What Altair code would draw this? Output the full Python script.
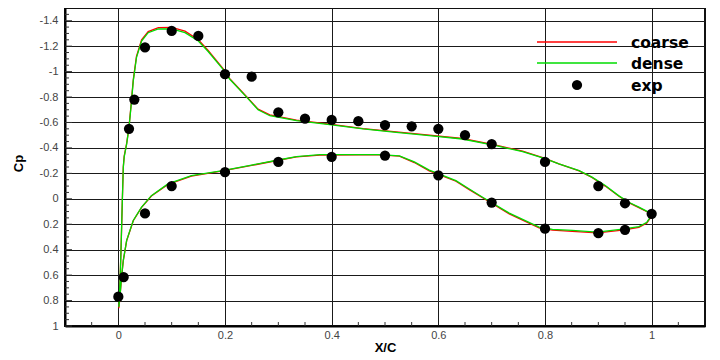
import altair as alt
import pandas as pd

# ---- CFD curves (path order: upper surface TE -> LE, then lower surface LE -> TE)
dense_x = [1.0, 0.994, 0.976, 0.957, 0.938, 0.913, 0.888, 0.864, 0.826, 0.8, 0.758, 0.708, 0.645,
           0.583, 0.521, 0.459, 0.40, 0.334, 0.284, 0.262, 0.241, 0.209, 0.196, 0.168, 0.15, 0.125,
           0.1, 0.075, 0.056, 0.0436, 0.034, 0.028, 0.0237, 0.02, 0.0156, 0.011, 0.0093, 0.0075,
           0.005, 0.003, 0.001,
           0.003, 0.006, 0.0093, 0.0156, 0.028, 0.0436, 0.062, 0.093, 0.137, 0.193, 0.25, 0.3,
           0.334, 0.378, 0.45, 0.49, 0.527, 0.555, 0.583, 0.633, 0.658, 0.683, 0.733, 0.789, 0.814,
           0.851, 0.898, 0.945, 0.976, 0.991, 0.9975, 1.0]
dense_cp = [0.13, 0.105, 0.066, 0.027, -0.025, -0.104, -0.17, -0.222, -0.274, -0.315, -0.37, -0.418,
            -0.47, -0.496, -0.522, -0.549, -0.582, -0.614, -0.653, -0.7, -0.797, -0.94, -1.02, -1.16,
            -1.24, -1.306, -1.335, -1.335, -1.306, -1.24, -1.11, -0.927, -0.72, -0.56, -0.43, -0.33,
            -0.247, 0.014, 0.406, 0.667, 0.85,
            0.772, 0.615, 0.484, 0.327, 0.17, 0.066, -0.025, -0.117, -0.182, -0.22, -0.265, -0.305,
            -0.331, -0.347, -0.348, -0.347, -0.337, -0.29, -0.225, -0.143, -0.077, -0.012, 0.113,
            0.223, 0.241, 0.249, 0.262, 0.239, 0.218, 0.184, 0.145, 0.13]

coarse_x = [1.0, 0.994, 0.976, 0.957, 0.938, 0.913, 0.888, 0.864, 0.826, 0.8, 0.758, 0.708, 0.645,
            0.583, 0.521, 0.459, 0.40, 0.334, 0.284, 0.262, 0.241, 0.209, 0.196, 0.168, 0.15, 0.125,
            0.1, 0.075, 0.056, 0.0436, 0.034, 0.028, 0.0237, 0.02, 0.0156, 0.011, 0.0093, 0.0075,
            0.005, 0.003, 0.001,
            0.003, 0.006, 0.0093, 0.0156, 0.028, 0.0436, 0.062, 0.093, 0.137, 0.193, 0.25, 0.3,
            0.334, 0.378, 0.45, 0.49, 0.527, 0.555, 0.583, 0.633, 0.658, 0.683, 0.733, 0.789, 0.814,
            0.851, 0.898, 0.945, 0.976, 0.991, 0.9975, 1.0]
coarse_cp = [0.13, 0.108, 0.07, 0.03, -0.022, -0.1, -0.168, -0.22, -0.274, -0.318, -0.374, -0.422,
             -0.474, -0.5, -0.526, -0.552, -0.585, -0.618, -0.66, -0.705, -0.8, -0.945, -1.025,
             -1.168, -1.25, -1.318, -1.348, -1.345, -1.315, -1.25, -1.12, -0.935, -0.73, -0.565,
             -0.435, -0.335, -0.25, 0.014, 0.41, 0.67, 0.86,
             0.775, 0.618, 0.486, 0.33, 0.172, 0.068, -0.022, -0.113, -0.178, -0.218, -0.262,
             -0.303, -0.33, -0.344, -0.346, -0.345, -0.335, -0.285, -0.22, -0.138, -0.072, -0.008,
             0.118, 0.228, 0.247, 0.256, 0.268, 0.246, 0.224, 0.19, 0.15, 0.13]

exp_x = [0.0, 0.01, 0.02, 0.03, 0.05, 0.1, 0.15, 0.2, 0.25, 0.3, 0.35, 0.4, 0.45, 0.5, 0.55, 0.6,
         0.65, 0.7, 0.8, 0.9, 0.95, 1.0,
         0.05, 0.1, 0.2, 0.3, 0.4, 0.5, 0.6, 0.7, 0.8, 0.9, 0.95]
exp_cp = [0.77, 0.615, -0.55, -0.78, -1.19, -1.32, -1.28, -0.98, -0.96, -0.68, -0.63, -0.62, -0.61,
          -0.58, -0.57, -0.55, -0.5, -0.43, -0.29, -0.1, 0.035, 0.118,
          0.115, -0.1, -0.21, -0.29, -0.33, -0.34, -0.185, 0.03, 0.235, 0.27, 0.244]

x_ticks = [0, 0.2, 0.4, 0.6, 0.8, 1]
y_ticks = [-1.4, -1.2, -1, -0.8, -0.6, -0.4, -0.2, 0, 0.2, 0.4, 0.6, 0.8, 1]
x_minor = [-0.05, 0.05, 0.1, 0.15, 0.25, 0.3, 0.35, 0.45, 0.5, 0.55, 0.65, 0.7, 0.75, 0.85, 0.9,
           0.95, 1.05]
y_minor = [-1.45, -1.35, -1.3, -1.25, -1.15, -1.1, -1.05, -0.95, -0.9, -0.85, -0.75, -0.7, -0.65,
           -0.55, -0.5, -0.45, -0.35, -0.3, -0.25, -0.15, -0.1, -0.05, 0.05, 0.1, 0.15, 0.25, 0.3,
           0.35, 0.45, 0.5, 0.55, 0.65, 0.7, 0.75, 0.85, 0.9, 0.95]
legend_labels = ["coarse", "dense", "exp"]

W, H = 640, 318
FONT = "Liberation Sans"
GRID = "#1a1a1a"

xs = alt.Scale(domain=[-0.1, 1.1], nice=False, zero=False)
ys = alt.Scale(domain=[-1.5, 1], nice=False, zero=False, reverse=True)

coarse_df = pd.DataFrame({"x": coarse_x, "cp": coarse_cp, "i": range(len(coarse_x))})
dense_df = pd.DataFrame({"x": dense_x, "cp": dense_cp, "i": range(len(dense_x))})
exp_df = pd.DataFrame({"x": exp_x, "cp": exp_cp})

lab = "(datum.value < 0 ? '-' : '') + format(abs(datum.value), '')"

x_axis = alt.Axis(values=x_ticks, grid=True, gridColor=GRID, gridWidth=1, ticks=False,
                  domainColor="#000", domainWidth=2, labelPadding=3, labelFont=FONT,
                  labelFontSize=11, labelColor="#444", labelExpr=lab, title="X/C",
                  titleFont=FONT, titleFontSize=13, titleFontWeight="bold", titleColor="#000",
                  titleY=21, titleBaseline="middle")
y_axis = alt.Axis(values=y_ticks, grid=True, gridColor=GRID, gridWidth=1, ticks=False,
                  domainColor="#000", domainWidth=2, labelPadding=7, labelFont=FONT,
                  labelFontSize=11, labelColor="#444", labelExpr=lab, title="Cp",
                  titleFont=FONT, titleFontSize=13, titleFontWeight="bold", titleColor="#000",
                  titleX=-47, titleY=155, titleAlign="center", titleBaseline="middle")

X = alt.X("x:Q", scale=xs, axis=x_axis, title="X/C")
Y = alt.Y("cp:Q", scale=ys, axis=y_axis, title="Cp")

coarse = alt.Chart(coarse_df).mark_line(color="#ff0000", strokeWidth=1.3).encode(
    x=X, y=Y, order="i:Q")
dense = alt.Chart(dense_df).mark_line(color="#00dd00", strokeWidth=1.3).encode(
    x=X, y=Y, order="i:Q")
exp = alt.Chart(exp_df).mark_circle(color="#000", size=105, opacity=1).encode(x=X, y=Y)

xminor = alt.Chart(pd.DataFrame({"x": x_minor})).mark_rule(color="#333", strokeWidth=1).encode(
    x=X, y=alt.value(H), y2=alt.value(H - 4))
yminor = alt.Chart(pd.DataFrame({"cp": y_minor})).mark_rule(color="#333", strokeWidth=1).encode(
    y=Y, x=alt.value(0), x2=alt.value(4))
ymajor = alt.Chart(pd.DataFrame({"cp": y_ticks})).mark_rule(color="#333", strokeWidth=1).encode(
    y=Y, x=alt.value(0), x2=alt.value(7))

one = pd.DataFrame({"k": [0]})
leg_red = alt.Chart(one).mark_rule(color="#ff0000", strokeWidth=1.3).encode(
    x=alt.value(472), x2=alt.value(552), y=alt.value(34))
leg_green = alt.Chart(one).mark_rule(color="#00dd00", strokeWidth=1.3).encode(
    x=alt.value(472), x2=alt.value(552), y=alt.value(55))
leg_dot = alt.Chart(one).mark_circle(color="#000", size=105, opacity=1).encode(
    x=alt.value(512), y=alt.value(77))
leg_texts = []
for lbl, yy in zip(legend_labels, [35, 56, 78]):
    leg_texts.append(
        alt.Chart(pd.DataFrame({"t": [lbl]})).mark_text(
            align="left", baseline="middle", font="DejaVu Sans", fontSize=15.5,
            fontWeight="bold", color="#000").encode(
            x=alt.value(566), y=alt.value(yy), text="t:N"))

chart = alt.layer(coarse, dense, exp, xminor, yminor, ymajor, leg_red, leg_green, leg_dot,
                  *leg_texts).properties(
    width=W, height=H,
    autosize=alt.AutoSizeParams(type="none"),
    padding={"left": 57, "top": 0, "right": 7, "bottom": 34},
).configure(background="white").configure_view(stroke="#111", strokeWidth=2)

chart.save("out.html", embed_options={"renderer": "svg", "actions": False})
